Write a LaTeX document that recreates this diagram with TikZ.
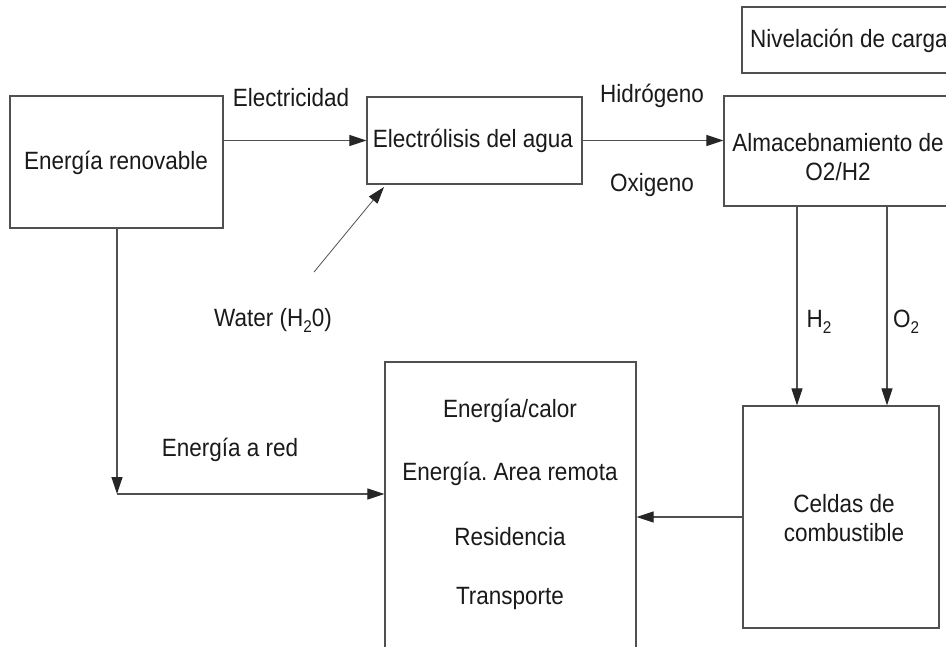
\documentclass[tikz,border=0pt]{standalone}
\usepackage{fontspec}
\setmainfont{Liberation Sans}[FakeStretch=0.9]
\usetikzlibrary{arrows.meta}
\definecolor{ln}{HTML}{505050}
\definecolor{tx}{HTML}{1A1A1A}
\frenchspacing
\tikzset{
  box/.style={draw=ln, line width=1.3pt, inner sep=0pt, fill=white},
  lbl/.style={inner sep=0pt, text=tx, font=\fontsize{25}{29}\selectfont},
  conn/.style={draw=ln, line width=1.2pt, -{Triangle[length=17pt,width=11pt,color=black!85]}},
  thin/.style={draw=ln, line width=0.8pt, -{Triangle[length=17pt,width=11pt,color=black!85]}}
}
\begin{document}
\begin{tikzpicture}[x=1pt,y=-1pt]
\clip (0,0) rectangle (946,646);
\fill[white] (0,0) rectangle (946,646);
% boxes
\node[box, minimum width=213pt, minimum height=132pt] (ren) at (116.5,162) {};
\node[box, minimum width=215pt, minimum height=87pt] (elec) at (474.5,140.5) {};
\node[box, minimum width=228pt, minimum height=110pt] (alm) at (838,151) {};
\node[box, minimum width=214pt, minimum height=66pt] (niv) at (849,40) {};
\node[box, minimum width=251pt, minimum height=300pt] (out) at (510.5,512) {};
\node[box, minimum width=196pt, minimum height=222pt] (cel) at (841,517) {};
% box texts
\node[lbl] (tren) at (116,163) {Energía renovable};
\node[lbl] (telec) at (473,141) {Electrólisis del agua};
\node[lbl, align=center] (talm) at (838,157) {Almacebnamiento de\\O2/H2};
\node[lbl] (tniv) at (849,41) {Nivelación de carga};
\node[lbl] (o1) at (510,411) {Energía/calor};
\node[lbl] (o2) at (510,474) {Energía. Area remota};
\node[lbl] (o3) at (510,537) {Residencia};
\node[lbl] (o4) at (510,598) {Transporte};
\node[lbl, align=center] (tcel) at (844,518) {Celdas de\\combustible};
% labels
\node[lbl] (lelec) at (291,98) {Electricidad};
\node[lbl] (lhid) at (652,96) {Hidrógeno};
\node[lbl] (loxi) at (652,185) {Oxigeno};
\node[lbl] (lwat) at (273,320) {Water (H\raisebox{-0.45ex}{\fontsize{17}{17}\selectfont 2}0)};
\node[lbl] (lh2) at (819,322) {H\raisebox{-0.45ex}{\fontsize{17}{17}\selectfont 2}};
\node[lbl] (lo2) at (906,322) {O\raisebox{-0.45ex}{\fontsize{17}{17}\selectfont 2}};
\node[lbl] (lred) at (230,450) {Energía a red};
% coordinates
\coordinate (wstart) at (314,272);
\coordinate (wend) at (384,187);
\coordinate (rcorner) at (117,494);
% connectors
\draw[conn] (ren.east |- elec.west) -- (elec.west);
\draw[conn] (elec.east) -- (alm.west |- elec.east);
\draw[thin] (wstart) -- (wend);
\draw[conn] (alm.south -| 797,0) -- (cel.north -| 797,0);
\draw[conn] (alm.south -| 887,0) -- (cel.north -| 887,0);
\draw[conn] (cel.west) -- (out.east |- cel.west);
\draw[conn] (ren.south -| rcorner) -- (rcorner);
\draw[conn] (rcorner) -- (out.west |- rcorner);
\end{tikzpicture}
\end{document}
